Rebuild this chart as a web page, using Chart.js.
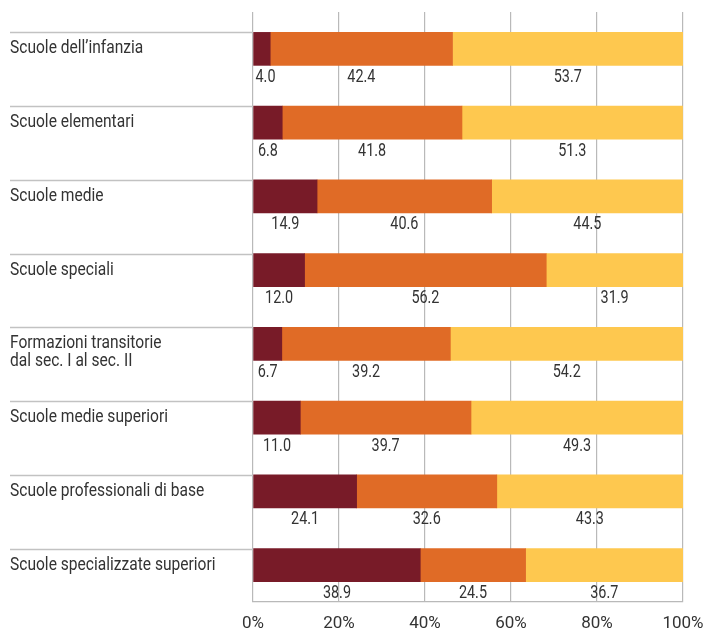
<!DOCTYPE html>
<html>
<head>
<meta charset="utf-8">
<script src="https://cdn.jsdelivr.net/npm/chart.js@4.4.1/dist/chart.umd.min.js"></script>
<style>
  html, body { margin: 0; padding: 0; background: #ffffff; }
  #wrap { width: 704px; height: 629px; position: relative; }
</style>
</head>
<body>
<div id="wrap"><canvas id="c" width="704" height="629"></canvas></div>
<script>
// ---- data ----
const categories = [
  ["Scuole dell\u2019infanzia"],
  ["Scuole elementari"],
  ["Scuole medie"],
  ["Scuole speciali"],
  ["Formazioni transitorie", "dal sec. I al sec. II"],
  ["Scuole medie superiori"],
  ["Scuole professionali di base"],
  ["Scuole specializzate superiori"]
];
const series1 = [4.0, 6.8, 14.9, 12.0, 6.7, 11.0, 24.1, 38.9];
const series2 = [42.4, 41.8, 40.6, 56.2, 39.2, 39.7, 32.6, 24.5];
const series3 = [53.7, 51.3, 44.5, 31.9, 54.2, 49.3, 43.3, 36.7];
const seriesNames = ["Serie 1", "Serie 2", "Serie 3"];
const tickValues = [0, 20, 40, 60, 80, 100];
const tickSuffix = "%";

// ---- styles ----
const colors = ["#781b28", "#e06b26", "#fec84f"];
const textColor = "#333333";
const gridColor = "#b9b9b9";
const sepColor = "#c2c2c2";
const BAR = 33;
const FAMILY = 'Roboto';

function drawCondensed(ctx, txt, x, y, sx, align) {
  const w = ctx.measureText(txt).width * sx;
  const lx = align === 'center' ? x - w / 2 : x;
  ctx.save();
  ctx.translate(lx, y);
  ctx.scale(sx, 1);
  ctx.textAlign = 'left';
  ctx.fillText(txt, 0, 0);
  ctx.restore();
  return w;
}

const annotate = {
  id: 'annotate',
  beforeDatasetsDraw(chart) {
    const ctx = chart.ctx;
    const y = chart.scales.y;
    const left = chart.chartArea.left;
    ctx.save();
    ctx.strokeStyle = sepColor;
    ctx.lineWidth = 1.5;
    categories.forEach((_, i) => {
      const yy = Math.round(y.getPixelForValue(i) - BAR / 2) + 0.5;
      ctx.beginPath();
      ctx.moveTo(10, yy);
      ctx.lineTo(left, yy);
      ctx.stroke();
    });
    ctx.restore();
  },
  afterDatasetsDraw(chart) {
    const ctx = chart.ctx;
    const yS = chart.scales.y;
    const left = chart.chartArea.left;
    ctx.save();
    ctx.fillStyle = textColor;
    ctx.textBaseline = 'alphabetic';
    // category labels
    ctx.font = '18px ' + FAMILY;
    categories.forEach((lines, i) => {
      const cy = yS.getPixelForValue(i);
      lines.forEach((ln, k) => {
        drawCondensed(ctx, ln, 10, cy + 4.5 + k * 17.5, 0.865, 'left');
      });
    });
    // value labels
    ctx.font = '18px ' + FAMILY;
    const vsx = 0.8;
    chart.data.datasets.forEach((ds, d) => {
      const meta = chart.getDatasetMeta(d);
      meta.data.forEach((bar, i) => {
        const txt = ds.data[i].toFixed(1);
        const w = ctx.measureText(txt).width * vsx;
        const x0 = Math.min(bar.base, bar.x), x1 = Math.min(Math.max(bar.base, bar.x), chart.chartArea.right);
        let cx = (x0 + x1) / 2;
        cx = Math.max(cx, left + 2.5 + w / 2);
        drawCondensed(ctx, txt, cx, bar.y + BAR / 2 + 16.5, vsx, 'center');
      });
    });
    ctx.restore();
  }
};

const ctx = document.getElementById('c').getContext('2d');
new Chart(ctx, {
  type: 'bar',
  data: {
    labels: categories,
    datasets: [series1, series2, series3].map((arr, k) => ({
      label: seriesNames[k],
      data: arr,
      backgroundColor: colors[k],
      borderWidth: 0,
      barThickness: BAR
    }))
  },
  options: {
    indexAxis: 'y',
    responsive: false,
    animation: false,
    layout: { padding: { top: 12, right: 21, left: 0, bottom: 0 } },
    plugins: { legend: { display: false }, tooltip: { enabled: false } },
    scales: {
      x: {
        stacked: true,
        min: 0,
        max: 100,
        afterBuildTicks(scale) { scale.ticks = tickValues.map(v => ({ value: v })); },
        afterFit(scale) { scale.height = 27; scale.paddingLeft = 0; scale.paddingRight = 0; },
        grid: { color: gridColor, lineWidth: 1.2, drawTicks: false },
        border: { display: true, color: gridColor, width: 1.2 },
        ticks: {
          padding: 12,
          color: textColor,
          font: { family: FAMILY, size: 17 },
          callback: v => v + tickSuffix,
          maxRotation: 0
        }
      },
      y: {
        stacked: true,
        offset: true,
        afterFit(scale) { scale.width = 253; },
        grid: { display: false },
        border: { display: false },
        ticks: { display: false }
      }
    }
  },
  plugins: [annotate]
});
</script>
</body>
</html>
